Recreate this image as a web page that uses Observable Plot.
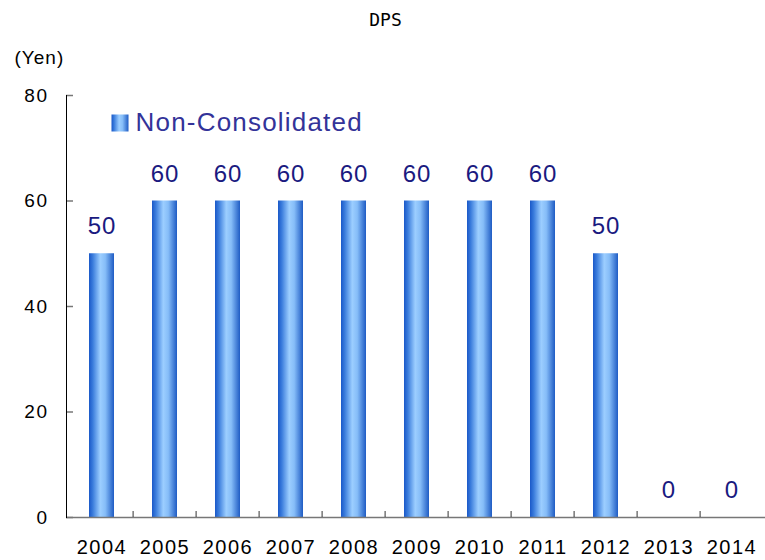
<!DOCTYPE html>
<html><head><meta charset="utf-8">
<script src="https://cdn.jsdelivr.net/npm/d3@7"></script>
<script src="https://cdn.jsdelivr.net/npm/@observablehq/plot@0.6"></script>
<style>
body{margin:0;background:#fff}
g[aria-label="x-axis tick label"] text{letter-spacing:1.5px}
g[aria-label="y-axis tick label"] text{letter-spacing:1.5px}
[aria-label="value-labels"], [aria-label="value-labels"] text{letter-spacing:1px}
[aria-label="unit-label"], [aria-label="unit-label"] text{letter-spacing:1px}
[aria-label="legend-label"], [aria-label="legend-label"] text{letter-spacing:1.2px}
</style>
</head><body><div id="chart"></div>
<script>
const years = ["2004","2005","2006","2007","2008","2009","2010","2011","2012","2013","2014"];
const dps = [50,60,60,60,60,60,60,60,50,0,0];
const yTicks = [0,20,40,60,80];
const title = "DPS";
const unit = "(Yen)";
const seriesName = "Non-Consolidated";

const data = years.map((y,i)=>({year:y, value:dps[i]}));
const font = "Liberation Sans, Arial, sans-serif";

const chart = Plot.plot({
  width: 765, height: 560,
  marginTop: 95, marginBottom: 43, marginLeft: 66, marginRight: -3,
  style: {fontFamily: font, background: "#fff", overflow: "hidden"},
  x: {domain: years, paddingInner: 0.6, paddingOuter: 0.3, axis: null, label: null},
  y: {domain: [0, 80], axis: null, label: null},
  marks: [
    Plot.barY(data, {x: "year", y: "value", fill: "url(#barGrad)"}),
    Plot.ruleY([0], {stroke: "#777", strokeWidth: 1.5}),
    Plot.axisX({anchor: "bottom", label: null, tickSize: 0, tickPadding: 22, fontSize: 20, fill: "#000"}),
    Plot.axisX({anchor: "bottom", label: null, ticks: years.slice(1), tickSize: -6, text: null, dx: -31.9, stroke: "#333"}),
    Plot.axisY({ticks: yTicks, label: null, tickSize: 0, tickPadding: 18, fontSize: 19, fill: "#000"}),
    Plot.axisY({ticks: yTicks, label: null, tickSize: -7, text: null, stroke: "#777", strokeWidth: 1.5}),
    Plot.frame({anchor: "left", stroke: "#000"}),
    Plot.text(data, {x: "year", y: "value", text: d => String(d.value), dy: -27, fontSize: 24, fill: "#1a1a80", ariaLabel: () => "value-labels"}),
    Plot.text([title], {frameAnchor: "top", lineAnchor: "middle", dx: -32, dy: -75, fontSize: 18, fontFamily: "DejaVu Sans Mono", fill: "#000"}),
    Plot.text([unit], {frameAnchor: "top-left", lineAnchor: "middle", dx: -52, dy: -38, fontSize: 19, fill: "#000", ariaLabel: () => "unit-label"}),
    Plot.dot([seriesName], {frameAnchor: "top-left", dx: 53.5, dy: 27.5, symbol: "square", r: 9.6, fill: "url(#barGrad)", stroke: null}),
    Plot.text([seriesName], {frameAnchor: "top-left", lineAnchor: "middle", dx: 69, dy: 27.5, textAnchor: "start", fontSize: 26, fill: "#333399", ariaLabel: () => "legend-label"})
  ]
});

const svg = d3.select(chart);
const grad = svg.insert("defs", ":first-child").append("linearGradient")
  .attr("id", "barGrad").attr("x1", "0").attr("x2", "1").attr("y1", "0").attr("y2", "0");
[[0,"#1a58c8"],[0.15,"#3a7cdc"],[0.45,"#9cceff"],[0.65,"#86bdf8"],[1,"#1f5cc4"]]
  .forEach(([o,c]) => grad.append("stop").attr("offset", o).attr("stop-color", c));
document.getElementById("chart").appendChild(chart);
</script></body></html>
